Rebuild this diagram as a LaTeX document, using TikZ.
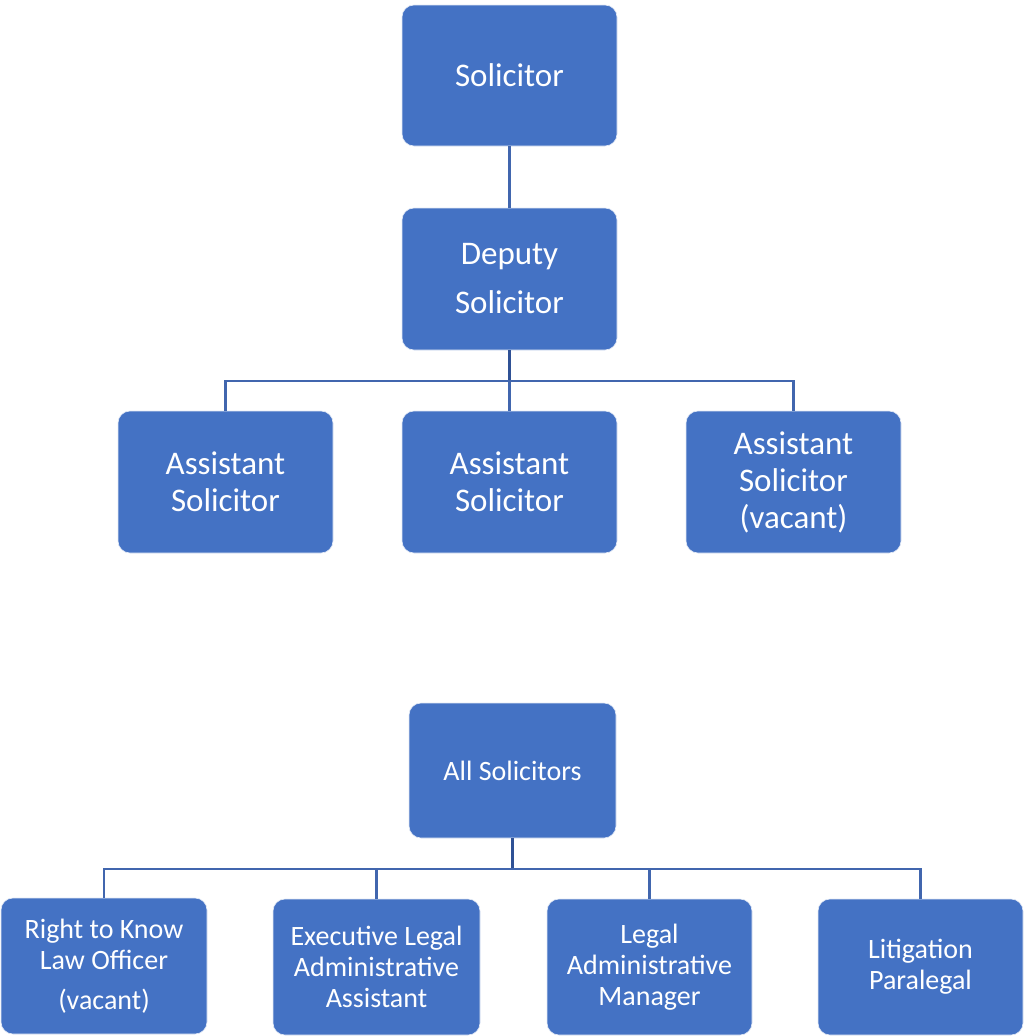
\documentclass[tikz,border=0pt]{standalone}
\usepackage{fontspec}
\setmainfont{Carlito}
\definecolor{boxblue}{HTML}{4472C4}
\definecolor{lineblue}{HTML}{4166AE}
\definecolor{stubblue}{HTML}{2F5195}
\begin{document}
\begin{tikzpicture}[x=1pt,y=-1pt,
  box/.style={fill=boxblue, draw=white!85!boxblue, line width=0.6pt, rounded corners=12pt,
    text=white, align=center, inner sep=0pt},
  topbox/.style={box, minimum width=215pt, minimum height=141pt, font=\fontsize{33}{37}\selectfont},
  botbox/.style={box, minimum width=206pt, minimum height=136pt, font=\fontsize{28}{31}\selectfont},
  conn/.style={draw=lineblue, line width=2.1pt},
  stub/.style={draw=stubblue, line width=2.6pt}]
\useasboundingbox (0,0) rectangle (1024,1036);
\fill[white] (0,0) rectangle (1024,1036);

\coordinate (bus1) at (0,381);
\coordinate (bus2) at (0,869);

\node[topbox] (sol) at (509.5,75.5) {Solicitor};
\node[topbox, minimum height=142pt] (dep) at (509.5,279) {Deputy\\[12pt]Solicitor};
\node[topbox, minimum height=142pt] (a1) at (225.5,482) {Assistant\\Solicitor};
\node[topbox, minimum height=142pt] (a2) at (509.5,482) {Assistant\\Solicitor};
\node[topbox, minimum height=142pt] (a3) at (793.5,482) {Assistant\\Solicitor\\(vacant)};

\node[botbox, minimum width=207pt, minimum height=135pt] (all) at (512.5,770.5) {All Solicitors};
\node[botbox] (b1) at (104,966) {Right to Know\\Law Officer\\[9pt](vacant)};
\node[botbox, minimum width=207pt] (b2) at (376.5,967) {Executive Legal\\Administrative\\Assistant};
\node[botbox, minimum width=205pt] (b3) at (649.5,967) {Legal\\Administrative\\Manager};
\node[botbox, minimum width=205pt] (b4) at (920.5,967) {Litigation\\Paralegal};

\draw[conn] (sol.south) -- (dep.north);

\draw[stub] (dep.south) -- (dep.south |- bus1);
\draw[conn] (a1.north) -- (a1.north |- bus1) -- (a3.north |- bus1) -- (a3.north);
\draw[conn] (a2.north) -- (a2.north |- bus1);

\draw[stub] (all.south) -- (all.south |- bus2);
\draw[conn] (b1.north) -- (b1.north |- bus2) -- (b4.north |- bus2) -- (b4.north);
\draw[conn] (b2.north) -- (b2.north |- bus2);
\draw[conn] (b3.north) -- (b3.north |- bus2);
\end{tikzpicture}
\end{document}
